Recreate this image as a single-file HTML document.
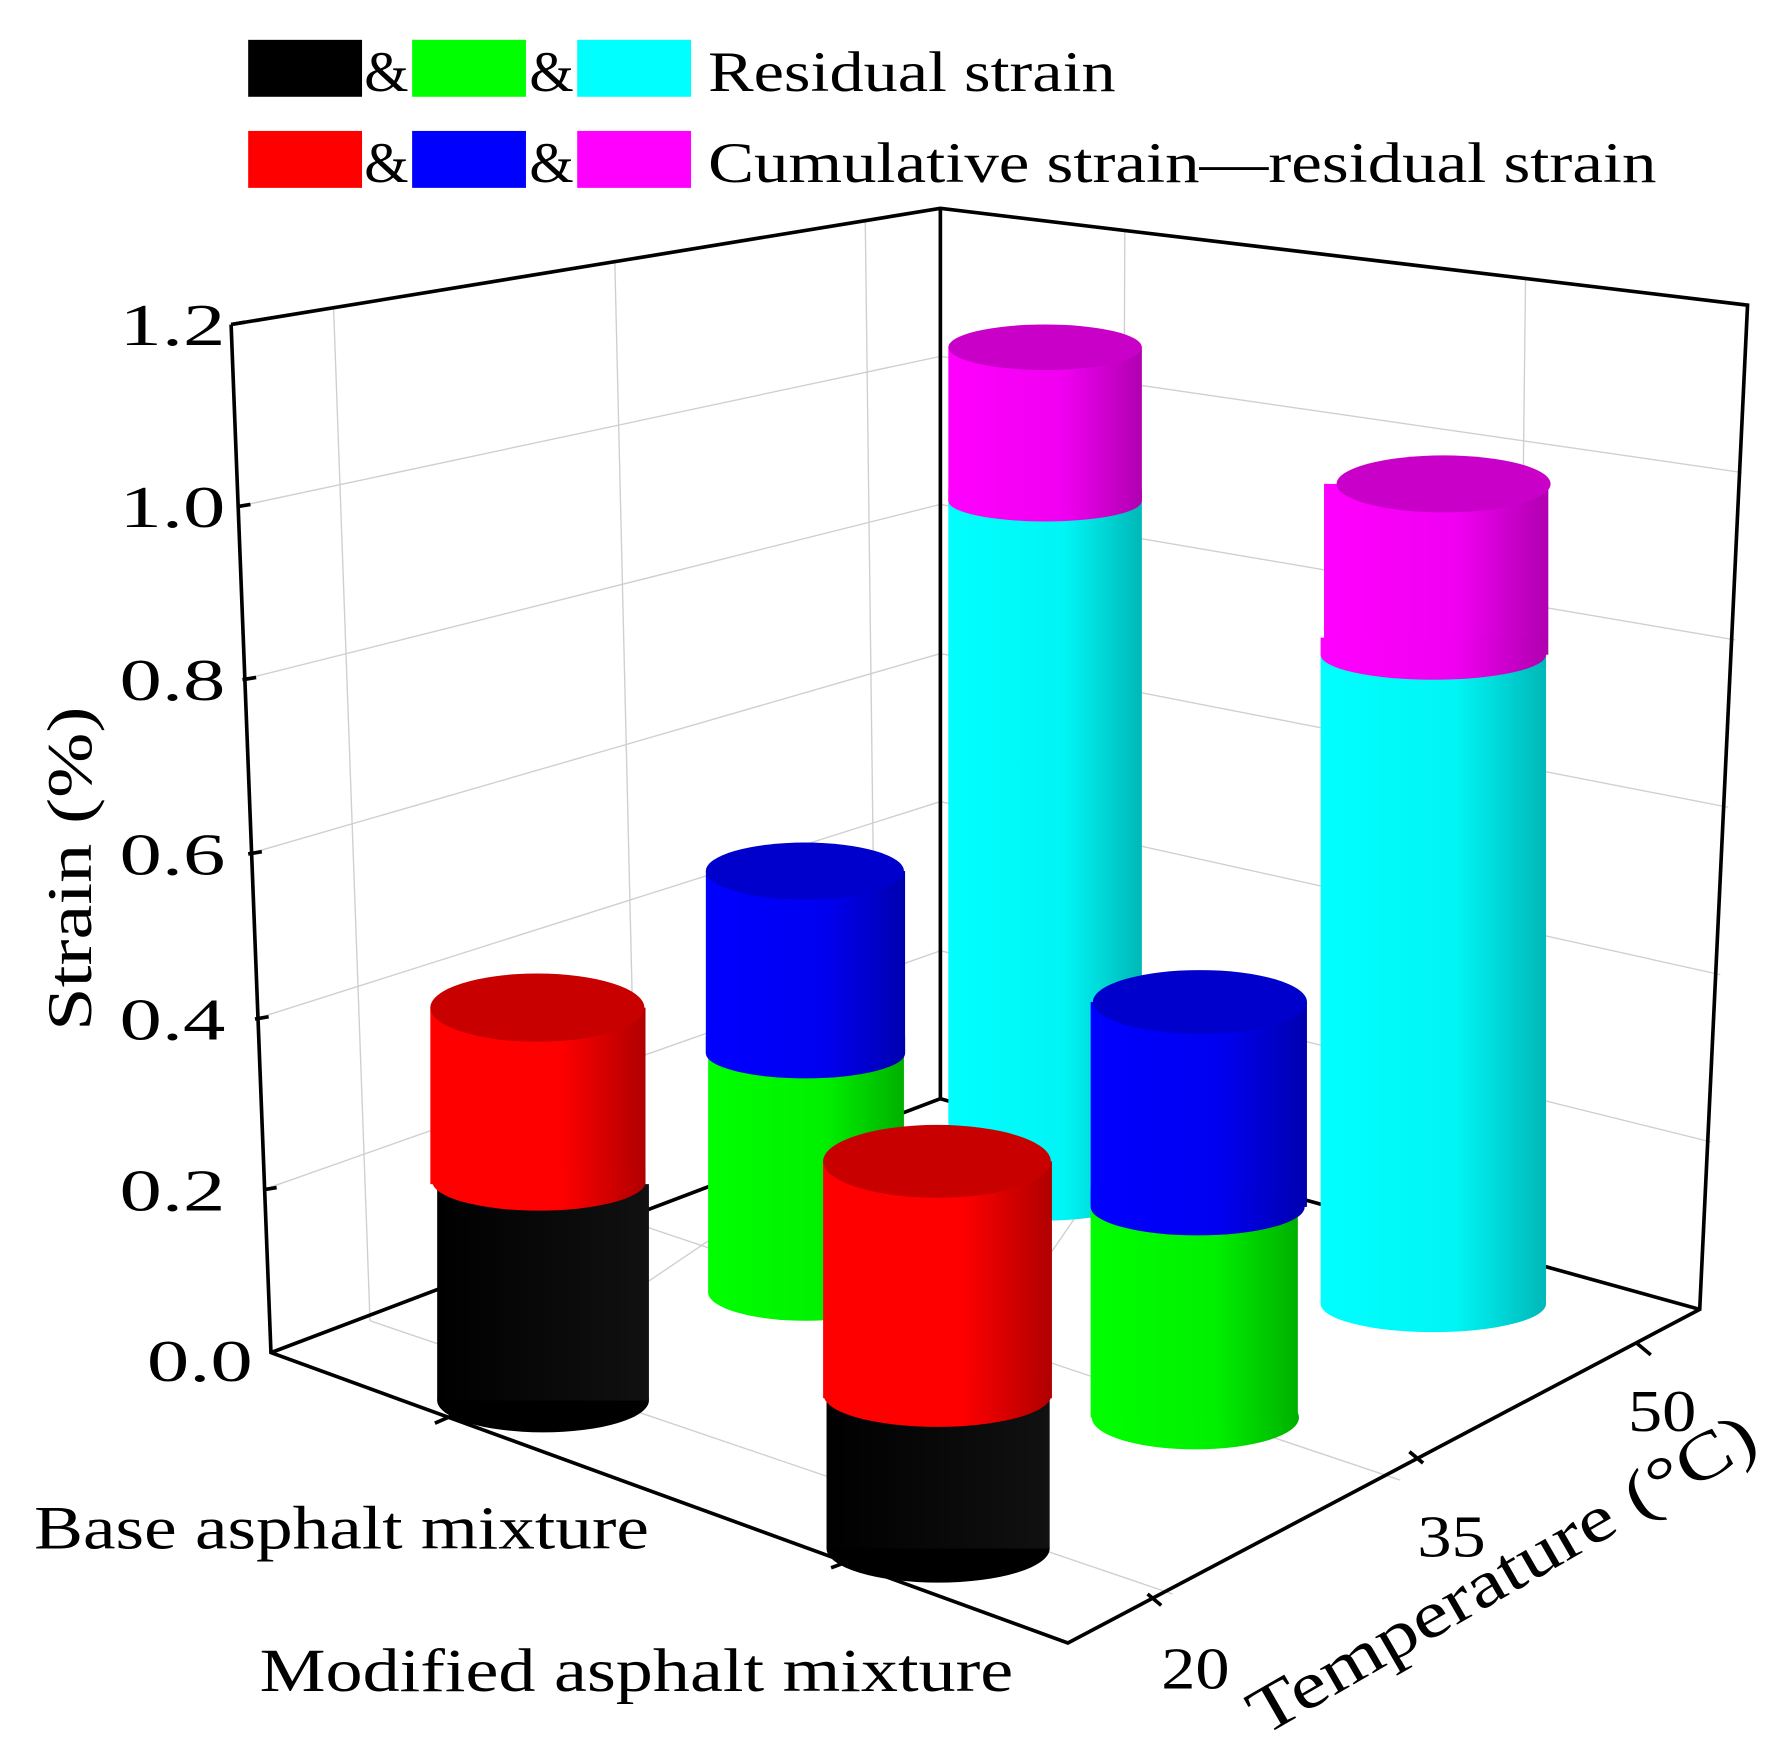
<!DOCTYPE html>
<html><head><meta charset="utf-8"><style>html,body{margin:0;padding:0;background:#fff}svg{display:block}</style></head><body>
<svg width="1776" height="1750" viewBox="0 0 1560 1537" preserveAspectRatio="none" xmlns="http://www.w3.org/2000/svg" font-family="'Liberation Serif', serif">
<defs>
<linearGradient id="gk" x1="0" x2="1"><stop offset="0" stop-color="#000"/><stop offset="1" stop-color="#111"/></linearGradient>
<linearGradient id="gr" x1="0" x2="1"><stop offset="0" stop-color="#ff0000"/><stop offset="0.6" stop-color="#ff0000"/><stop offset="1" stop-color="#b00000"/></linearGradient>
<linearGradient id="gg" x1="0" x2="1"><stop offset="0" stop-color="#00ff00"/><stop offset="0.6" stop-color="#00f000"/><stop offset="1" stop-color="#00b000"/></linearGradient>
<linearGradient id="gb" x1="0" x2="1"><stop offset="0" stop-color="#0000ff"/><stop offset="0.6" stop-color="#0000f0"/><stop offset="1" stop-color="#0000b0"/></linearGradient>
<linearGradient id="gc" x1="0" x2="1"><stop offset="0" stop-color="#00ffff"/><stop offset="0.6" stop-color="#00f5f5"/><stop offset="1" stop-color="#00b8b8"/></linearGradient>
<linearGradient id="gm" x1="0" x2="1"><stop offset="0" stop-color="#ff00ff"/><stop offset="0.6" stop-color="#f000f0"/><stop offset="1" stop-color="#b000b0"/></linearGradient>
</defs>
<g stroke="#cfcfcf" stroke-width="1.2" fill="none">
<line x1="208" y1="445" x2="826" y2="313"/><line x1="213" y1="597" x2="826" y2="443"/><line x1="218" y1="750" x2="826" y2="574"/><line x1="224" y1="895" x2="826" y2="704"/><line x1="231" y1="1045" x2="826" y2="835"/>
<line x1="826" y1="313" x2="1530" y2="415"/><line x1="826" y1="443" x2="1524" y2="562"/><line x1="826" y1="574" x2="1518" y2="709"/><line x1="826" y1="704" x2="1511" y2="856"/><line x1="826" y1="835" x2="1503" y2="1003"/>
<line x1="293" y1="270" x2="325" y2="1160"/><line x1="540" y1="228" x2="560" y2="1075"/><line x1="760" y1="193" x2="770" y2="990"/>
<line x1="988" y1="203" x2="985" y2="1010"/><line x1="1340" y1="245" x2="1330" y2="1105"/>
<line x1="325" y1="1160" x2="1030" y2="1400"/><line x1="560" y1="1075" x2="1230" y2="1300"/>
<line x1="770" y1="990" x2="385" y2="1250"/><line x1="985" y1="1010" x2="735" y2="1375"/>
</g>
<g stroke="#000" stroke-width="3.2" fill="none">
<polyline points="203,285 826,183 1535,268 1493,1150 938,1443 238,1188 203,285"/>
<line x1="826" y1="183" x2="826" y2="965"/>
<line x1="826" y1="965" x2="238" y2="1188"/><line x1="826" y1="965" x2="1493" y2="1150"/>
<line x1="382" y1="1250" x2="398" y2="1243"/><line x1="730" y1="1377" x2="746" y2="1371"/>
<line x1="1020" y1="1410" x2="1008" y2="1400"/><line x1="1250" y1="1285" x2="1238" y2="1275"/><line x1="1450" y1="1190" x2="1438" y2="1180"/>
<line x1="203" y1="285" x2="215" y2="283"/><line x1="208" y1="445" x2="220" y2="443"/><line x1="213" y1="597" x2="225" y2="595"/><line x1="218" y1="750" x2="230" y2="748"/><line x1="224" y1="895" x2="236" y2="893"/><line x1="231" y1="1045" x2="243" y2="1043"/>
</g>
<g>
<ellipse cx="918" cy="1050" rx="85" ry="22" fill="url(#gc)"/><rect x="833" y="440" width="170" height="610" fill="url(#gc)"/>
<rect x="833" y="305" width="170" height="135" fill="url(#gm)"/>
<path d="M833,440 A85,18 0 0 0 1003,440 L1003,430 L833,430Z" fill="url(#gm)"/>
<ellipse cx="918" cy="305" rx="85" ry="20" fill="#c800c8"/>

<ellipse cx="1259" cy="1145" rx="99" ry="25" fill="url(#gc)"/><rect x="1160" y="575" width="198" height="570" fill="url(#gc)"/>
<rect x="1163" y="425" width="197" height="150" fill="url(#gm)"/><path d="M1160,575 A99,22 0 0 0 1358,575 L1358,560 L1160,560Z" fill="url(#gm)"/>
<ellipse cx="1268" cy="425" rx="94" ry="25" fill="#c800c8"/>

<ellipse cx="708" cy="1135" rx="86" ry="25" fill="url(#gg)"/><rect x="622" y="925" width="172" height="210" fill="url(#gg)"/>
<rect x="620" y="765" width="175" height="160" fill="url(#gb)"/><path d="M620,925 A87,22 0 0 0 795,925 L795,910 L620,910Z" fill="url(#gb)"/>
<ellipse cx="707" cy="765" rx="87" ry="25" fill="#0000cc"/>

<ellipse cx="1050" cy="1245" rx="91" ry="28" fill="url(#gg)"/><rect x="958" y="1060" width="182" height="185" fill="url(#gg)"/>
<rect x="958" y="880" width="190" height="180" fill="url(#gb)"/><path d="M958,1060 A94,25 0 0 0 1146,1060 L1146,1045 L958,1045Z" fill="url(#gb)"/>
<ellipse cx="1054" cy="880" rx="94" ry="28" fill="#0000cc"/>

<ellipse cx="477" cy="1230" rx="93" ry="28" fill="#000"/><rect x="384" y="1040" width="186" height="190" fill="url(#gk)"/>
<rect x="378" y="885" width="189" height="155" fill="url(#gr)"/><path d="M380,1040 A94,26 0 0 0 567,1040 L567,1025 L380,1025Z" fill="url(#gr)"/>
<ellipse cx="472" cy="885" rx="94" ry="30" fill="#c80000"/>

<ellipse cx="824" cy="1360" rx="98" ry="30" fill="#000"/><rect x="726" y="1228" width="196" height="132" fill="url(#gk)"/>
<rect x="723" y="1020" width="201" height="208" fill="url(#gr)"/><path d="M724,1228 A100,28 0 0 0 923,1228 L923,1212 L724,1212Z" fill="url(#gr)"/>
<ellipse cx="823" cy="1020" rx="100" ry="32" fill="#c80000"/>
</g>
<g font-size="52" fill="#000" text-anchor="end">
<text x="198" y="303" textLength="93" lengthAdjust="spacingAndGlyphs">1.2</text><text x="198" y="463" textLength="93" lengthAdjust="spacingAndGlyphs">1.0</text><text x="198" y="615" textLength="93" lengthAdjust="spacingAndGlyphs">0.8</text><text x="198" y="768" textLength="93" lengthAdjust="spacingAndGlyphs">0.6</text><text x="198" y="913" textLength="93" lengthAdjust="spacingAndGlyphs">0.4</text><text x="198" y="1063" textLength="93" lengthAdjust="spacingAndGlyphs">0.2</text><text x="222" y="1213" textLength="93" lengthAdjust="spacingAndGlyphs">0.0</text>
</g>
<g font-size="52" fill="#000">
<text x="1020" y="1483" textLength="60" lengthAdjust="spacingAndGlyphs">20</text><text x="1245" y="1367" textLength="60" lengthAdjust="spacingAndGlyphs">35</text><text x="1430" y="1257" textLength="60" lengthAdjust="spacingAndGlyphs">50</text>
<text x="30" y="1360" font-size="54" textLength="540" lengthAdjust="spacingAndGlyphs">Base asphalt mixture</text>
<text x="228" y="1485" font-size="54" textLength="662" lengthAdjust="spacingAndGlyphs">Modified asphalt mixture</text>
<text transform="translate(80,763) rotate(-90)" text-anchor="middle" font-size="56" textLength="285" lengthAdjust="spacingAndGlyphs">Strain (%)</text>
<text transform="translate(1110,1525) rotate(-30)" font-size="58" textLength="505" lengthAdjust="spacingAndGlyphs">Temperature (°C)</text>
</g>
<g font-size="50" fill="#000">
<rect x="218" y="35" width="100" height="50" fill="#000"/><text x="320" y="80">&amp;</text>
<rect x="362" y="35" width="100" height="50" fill="#00ff00"/><text x="465" y="80">&amp;</text>
<rect x="507" y="35" width="100" height="50" fill="#00ffff"/><text x="622" y="80" textLength="358" lengthAdjust="spacingAndGlyphs">Residual strain</text>
<rect x="218" y="115" width="100" height="50" fill="#ff0000"/><text x="320" y="160">&amp;</text>
<rect x="362" y="115" width="100" height="50" fill="#0000ff"/><text x="465" y="160">&amp;</text>
<rect x="507" y="115" width="100" height="50" fill="#ff00ff"/><text x="622" y="160" textLength="833" lengthAdjust="spacingAndGlyphs">Cumulative strain—residual strain</text>
</g>
</svg>
</body></html>
